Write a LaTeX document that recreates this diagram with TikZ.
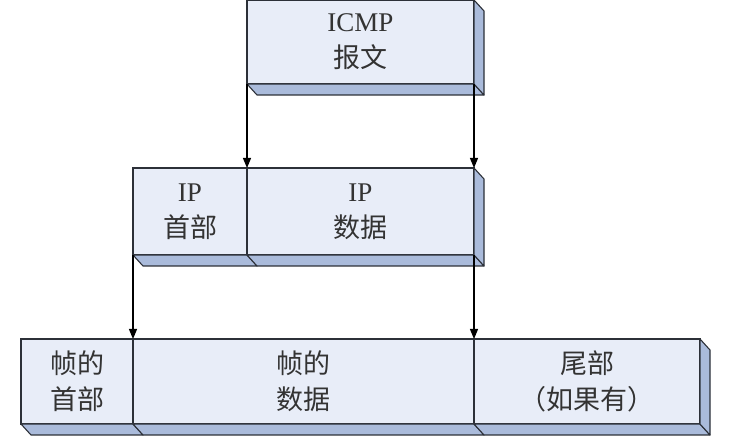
\documentclass[tikz,border=0pt]{standalone}
\usepackage{fontspec}
\setmainfont{Liberation Serif}
\newfontfamily\cjk{Noto Sans CJK SC}
\usepackage{xcolor}
\usepackage{tikz}
\usetikzlibrary{arrows.meta,calc}
\definecolor{frontblue}{HTML}{E8EDF8}
\definecolor{underblue}{HTML}{AABBDB}
\definecolor{edgegray}{HTML}{2C3038}

\begin{document}
\begin{tikzpicture}[x=1pt,y=-1pt,>={Triangle[length=10pt,width=8pt]}]
  \tikzstyle{field}=[draw=edgegray,line width=1.1pt,fill=frontblue,inner sep=0pt,outer sep=0pt,align=center,text=black!80,font=\fontsize{27}{36}\selectfont]
  \tikzstyle{slab}=[draw=edgegray,line width=1.1pt,fill=underblue,line join=round]
  \useasboundingbox (0,0) rectangle (740,438);
  % ICMP message
  \node[field,anchor=north west,minimum width=227pt,minimum height=84pt] (icmp) at (247,0) {ICMP\\{\cjk 报文}};
  % IP datagram
  \node[field,anchor=north west,minimum width=114pt,minimum height=87pt] (iphdr) at (133,168) {IP\\{\cjk 首部}};
  \node[field,anchor=north west,minimum width=227pt,minimum height=87pt] (ipdata) at (247,168) {IP\\{\cjk 数据}};
  % frame
  \node[field,anchor=north west,minimum width=112pt,minimum height=85pt] (frhdr) at (21,339) {\cjk 帧的\\\cjk 首部};
  \node[field,anchor=north west,minimum width=341pt,minimum height=85pt] (frdata) at (133,339) {\cjk 帧的\\\cjk 数据};
  \node[field,anchor=north west,minimum width=226pt,minimum height=85pt] (frtrail) at (474,339) {\cjk 尾部\\\cjk （如果有）};
  % undersides and right sides
  \draw[slab] (icmp.south west) -- (icmp.south east) -- ++(10,11) -- ($(icmp.south west)+(10,11)$) -- cycle;
  \draw[slab] (icmp.north east) -- ++(10,11) -- ($(icmp.south east)+(10,11)$) -- (icmp.south east) -- cycle;
  \draw[slab] (iphdr.south west) -- (iphdr.south east) -- ++(10,11) -- ($(iphdr.south west)+(10,11)$) -- cycle;
  \draw[slab] (ipdata.south west) -- (ipdata.south east) -- ++(10,11) -- ($(ipdata.south west)+(10,11)$) -- cycle;
  \draw[slab] (ipdata.north east) -- ++(10,11) -- ($(ipdata.south east)+(10,11)$) -- (ipdata.south east) -- cycle;
  \draw[slab] (frhdr.south west) -- (frhdr.south east) -- ++(10,11) -- ($(frhdr.south west)+(10,11)$) -- cycle;
  \draw[slab] (frdata.south west) -- (frdata.south east) -- ++(10,11) -- ($(frdata.south west)+(10,11)$) -- cycle;
  \draw[slab] (frtrail.south west) -- (frtrail.south east) -- ++(10,11) -- ($(frtrail.south west)+(10,11)$) -- cycle;
  \draw[slab] (frtrail.north east) -- ++(10,11) -- ($(frtrail.south east)+(10,11)$) -- (frtrail.south east) -- cycle;
  % encapsulation arrows
  \draw[->,line width=1.1pt,black] (icmp.south west) -- (ipdata.north west);
  \draw[->,line width=1.1pt,black] (icmp.south east) -- (ipdata.north east);
  \draw[->,line width=1.1pt,black] (iphdr.south west) -- (frdata.north west);
  \draw[->,line width=1.1pt,black] (ipdata.south east) -- (frdata.north east);
\end{tikzpicture}
\end{document}
